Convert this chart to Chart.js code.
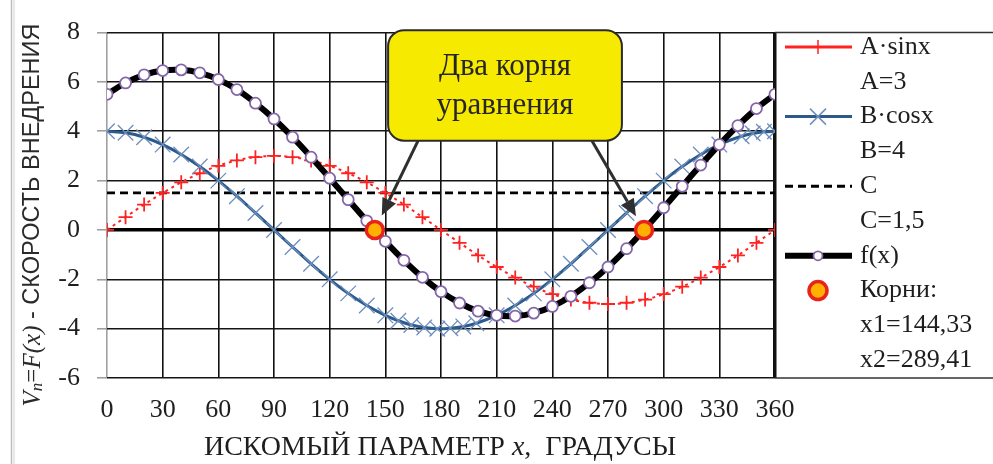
<!DOCTYPE html>
<html>
<head>
<meta charset="utf-8">
<script src="https://cdn.jsdelivr.net/npm/chart.js@4.4.1/dist/chart.umd.min.js"></script>
<style>
  html, body { margin: 0; padding: 0; background: #fff; }
  #wrap { width: 993px; height: 464px; }
</style>
</head>
<body>
<div id="wrap"><canvas id="c" width="993" height="464"></canvas></div>
<script>
// x, degrees
const xDeg = [0,10,20,30,40,50,60,70,80,90,100,110,120,130,140,150,160,170,180,
  190,200,210,220,230,240,250,260,270,280,290,300,310,320,330,340,350,360];
// A*sin x, A = 3
const aSin = [0,0.52,1.03,1.5,1.93,2.3,2.6,2.82,2.95,3,2.95,2.82,2.6,2.3,1.93,1.5,1.03,0.52,0,
  -0.52,-1.03,-1.5,-1.93,-2.3,-2.6,-2.82,-2.95,-3,-2.95,-2.82,-2.6,-2.3,-1.93,-1.5,-1.03,-0.52,0];
// B*cos x, B = 4 (markers denser near the extremes)
const xCos = [0,10,20,30,40,50,60,70,80,90,100,110,120,130,140,150,157,164,171,178,185,192,199,
  210,220,230,240,250,260,270,280,290,300,310,320,330,342,348,354,360];
const bCos = [4,3.94,3.76,3.46,3.06,2.57,2,1.37,0.69,0,-0.69,-1.37,-2,-2.57,-3.06,-3.46,-3.68,-3.85,-3.95,-4,-3.98,-3.91,-3.78,
  -3.46,-3.06,-2.57,-2,-1.37,-0.69,0,0.69,1.37,2,2.57,3.06,3.46,3.8,3.91,3.98,4];
// f(x) = A*sin x + B*cos x + C
const fX = [5.5,5.96,6.29,6.46,6.49,6.37,6.1,5.69,5.14,4.5,3.76,2.95,2.1,1.23,0.37,-0.46,-1.23,-1.92,-2.5,
  -2.96,-3.29,-3.46,-3.49,-3.37,-3.1,-2.69,-2.14,-1.5,-0.76,0.05,0.9,1.77,2.63,3.46,4.23,4.92,5.5];
const cX = [0, 360];
const cVal = [1.5, 1.5];
const roots = [144.33, 289.41];
const rootVal = [0, 0];
const xTicks = [0,30,60,90,120,150,180,210,240,270,300,330,360];
const yTicks = [-6,-4,-2,0,2,4,6,8];

const legendRows = [
  { text: 'A·sinx', sample: 'sin' },
  { text: 'A=3' },
  { text: 'B·cosx', sample: 'cos' },
  { text: 'B=4' },
  { text: 'C', sample: 'c' },
  { text: 'C=1,5' },
  { text: 'f(x)', sample: 'f' },
  { text: 'Корни:', sample: 'root' },
  { text: 'x1=144,33' },
  { text: 'x2=289,41' }
];

const SERIF = '"Liberation Serif", "Times New Roman", serif';
const SANS = '"Liberation Sans", Arial, sans-serif';
const RED = '#ff2222';
const BLUE = '#2c5a8c';
const BLUE_MK = '#6d8fbd';
const PURPLE = '#8466a8';
const ROOT_FILL = '#ffb000';
const ROOT_LINE = '#e8231c';

const pts = (xs, ys) => xs.map((x, i) => ({ x: x, y: ys[i] }));

function arrow(ctx, x1, y1, x2, y2) {
  const a = Math.atan2(y2 - y1, x2 - x1);
  const len = 17, hw = 7.5;
  const bx = x2 - Math.cos(a) * len, by = y2 - Math.sin(a) * len;
  ctx.beginPath();
  ctx.moveTo(x1, y1);
  ctx.lineTo(bx, by);
  ctx.stroke();
  ctx.beginPath();
  ctx.moveTo(x2, y2);
  ctx.lineTo(bx + Math.sin(a) * hw, by - Math.cos(a) * hw);
  ctx.lineTo(bx - Math.sin(a) * hw, by + Math.cos(a) * hw);
  ctx.closePath();
  ctx.fill();
}

const extras = {
  id: 'extras',
  beforeDraw(chart) {
    const ctx = chart.ctx;
    ctx.save();
    ctx.fillStyle = '#fff';
    ctx.fillRect(0, 0, chart.width, chart.height);
    // page frame line on the left
    ctx.strokeStyle = '#bdbdbd';
    ctx.lineWidth = 1.5;
    ctx.beginPath(); ctx.moveTo(11.5, 0); ctx.lineTo(11.5, chart.height); ctx.stroke();
    ctx.strokeStyle = '#e0e0e0';
    ctx.beginPath(); ctx.moveTo(14, 0); ctx.lineTo(14, chart.height); ctx.stroke();
    ctx.restore();
  },
  afterDraw(chart) {
    const ctx = chart.ctx;
    const xs = chart.scales.x, ys = chart.scales.y;
    const area = chart.chartArea;
    ctx.save();

    // frame lines continuing through the legend area
    ctx.strokeStyle = '#333';
    ctx.lineWidth = 1.5;
    ctx.beginPath();
    ctx.moveTo(area.right, ys.getPixelForValue(8)); ctx.lineTo(chart.width, ys.getPixelForValue(8));
    ctx.moveTo(area.right, ys.getPixelForValue(-6)); ctx.lineTo(chart.width, ys.getPixelForValue(-6));
    ctx.stroke();

    // callout box
    const bl = xs.getPixelForValue(151.5), br = xs.getPixelForValue(277.5);
    const bt = ys.getPixelForValue(8.1), bb = ys.getPixelForValue(3.62);
    ctx.fillStyle = '#f6ea00';
    ctx.strokeStyle = '#2a2a2a';
    ctx.lineWidth = 2;
    ctx.beginPath();
    ctx.roundRect(bl, bt, br - bl, bb - bt, 16);
    ctx.fill();
    ctx.stroke();
    ctx.fillStyle = '#262626';
    ctx.font = '31px ' + SERIF;
    ctx.textAlign = 'center';
    ctx.textBaseline = 'middle';
    ctx.fillText('Два корня', (bl + br) / 2, bt + 37);
    ctx.fillText('уравнения', (bl + br) / 2, bt + 76);

    // arrows to the roots
    ctx.strokeStyle = '#2f2f2f';
    ctx.fillStyle = '#2f2f2f';
    ctx.lineWidth = 3;
    const starts = [bl + 30, br - 30];
    roots.forEach((r, i) => {
      const rx = xs.getPixelForValue(r), ry = ys.getPixelForValue(rootVal[i]);
      const sx = starts[i], sy = bb;
      const d = Math.hypot(rx - sx, ry - sy);
      const k = (d - 16) / d;
      arrow(ctx, sx, sy, sx + (rx - sx) * k, sy + (ry - sy) * k);
    });

    // legend
    const lx1 = 785, lx2 = 852, mx = 818, tx = 860;
    ctx.textAlign = 'left';
    ctx.textBaseline = 'middle';
    legendRows.forEach((row, i) => {
      const y = 47 + i * 34.8;
      if (row.sample === 'sin') {
        ctx.strokeStyle = RED; ctx.lineWidth = 3;
        ctx.beginPath(); ctx.moveTo(lx1, y); ctx.lineTo(lx2, y); ctx.stroke();
        ctx.lineWidth = 1.5;
        ctx.beginPath(); ctx.moveTo(mx - 7, y); ctx.lineTo(mx + 7, y);
        ctx.moveTo(mx, y - 7); ctx.lineTo(mx, y + 7); ctx.stroke();
      } else if (row.sample === 'cos') {
        ctx.strokeStyle = BLUE; ctx.lineWidth = 3;
        ctx.beginPath(); ctx.moveTo(lx1, y); ctx.lineTo(lx2, y); ctx.stroke();
        ctx.strokeStyle = BLUE_MK; ctx.lineWidth = 1.5;
        ctx.beginPath(); ctx.moveTo(mx - 8, y - 8); ctx.lineTo(mx + 8, y + 8);
        ctx.moveTo(mx - 8, y + 8); ctx.lineTo(mx + 8, y - 8); ctx.stroke();
      } else if (row.sample === 'c') {
        ctx.strokeStyle = '#000'; ctx.lineWidth = 3; ctx.setLineDash([8, 5]);
        ctx.beginPath(); ctx.moveTo(lx1, y); ctx.lineTo(lx2, y); ctx.stroke();
        ctx.setLineDash([]);
      } else if (row.sample === 'f') {
        ctx.strokeStyle = '#000'; ctx.lineWidth = 6;
        ctx.beginPath(); ctx.moveTo(lx1, y); ctx.lineTo(lx2, y); ctx.stroke();
        ctx.fillStyle = '#fff'; ctx.strokeStyle = PURPLE; ctx.lineWidth = 1.8;
        ctx.beginPath(); ctx.arc(mx, y, 4.5, 0, Math.PI * 2); ctx.fill(); ctx.stroke();
      } else if (row.sample === 'root') {
        ctx.fillStyle = ROOT_FILL; ctx.strokeStyle = ROOT_LINE; ctx.lineWidth = 3.5;
        ctx.beginPath(); ctx.arc(mx, y, 9, 0, Math.PI * 2); ctx.fill(); ctx.stroke();
      }
      ctx.fillStyle = '#1e1e1e';
      ctx.font = '26px ' + SERIF;
      ctx.fillText(row.text, tx, y);
    });

    // y axis title (rotated, mixed styles)
    const segs = [
      { t: 'V', f: 'italic 25px ' + SERIF, dy: 0 },
      { t: 'п', f: 'italic 17px ' + SERIF, dy: 5 },
      { t: '=', f: '25px ' + SERIF, dy: 0 },
      { t: 'F(x)', f: 'italic 25px ' + SERIF, dy: 0 },
      { t: ' - СКОРОСТЬ ВНЕДРЕНИЯ', f: '23.5px ' + SANS, dy: 0 }
    ];
    let total = 0;
    segs.forEach(s => { ctx.font = s.f; s.w = ctx.measureText(s.t).width; total += s.w; });
    ctx.translate(33, 215);
    ctx.rotate(-Math.PI / 2);
    ctx.fillStyle = '#2a2a2a';
    ctx.textAlign = 'left';
    ctx.textBaseline = 'middle';
    let px = -total / 2;
    segs.forEach(s => { ctx.font = s.f; ctx.fillText(s.t, px, s.dy); px += s.w; });
    ctx.setTransform(1, 0, 0, 1, 0, 0);

    // x axis title
    const xsegs = [
      { t: 'ИСКОМЫЙ ПАРАМЕТР ', f: '28px ' + SERIF },
      { t: 'x', f: 'italic 28px ' + SERIF },
      { t: ',  ГРАДУСЫ', f: '28px ' + SERIF }
    ];
    total = 0;
    xsegs.forEach(s => { ctx.font = s.f; s.w = ctx.measureText(s.t).width; total += s.w; });
    px = 440 - total / 2;
    ctx.fillStyle = '#1e1e1e';
    xsegs.forEach(s => { ctx.font = s.f; ctx.fillText(s.t, px, 448); px += s.w; });

    ctx.restore();
  }
};

new Chart(document.getElementById('c'), {
  type: 'line',
  data: {
    datasets: [
      {
        label: 'Корни',
        data: pts(roots, rootVal),
        showLine: false,
        pointRadius: 8.5,
        pointBackgroundColor: ROOT_FILL,
        pointBorderColor: ROOT_LINE,
        pointBorderWidth: 3.5
      },
      {
        label: 'f(x)',
        data: pts(xDeg, fX),
        borderColor: '#000',
        borderWidth: 6,
        tension: 0.4,
        pointStyle: 'circle',
        pointRadius: 5.5,
        pointBackgroundColor: '#fff',
        pointBorderColor: PURPLE,
        pointBorderWidth: 1.8
      },
      {
        label: 'B·cosx',
        data: pts(xCos, bCos),
        borderColor: BLUE,
        borderWidth: 3,
        tension: 0.4,
        pointStyle: 'crossRot',
        pointRadius: 11,
        pointBorderColor: BLUE_MK,
        pointBorderWidth: 1.3
      },
      {
        label: 'A·sinx',
        data: pts(xDeg, aSin),
        borderColor: RED,
        borderWidth: 2,
        borderDash: [3, 4],
        tension: 0.4,
        pointStyle: 'cross',
        pointRadius: 7,
        pointBorderColor: RED,
        pointBorderWidth: 1.8
      },
      {
        label: 'C',
        data: pts(cX, cVal),
        borderColor: '#000',
        borderWidth: 2.8,
        borderDash: [8, 5],
        pointRadius: 0
      }
    ]
  },
  options: {
    responsive: false,
    animation: false,
    events: [],
    layout: { padding: { top: 28, right: 218, left: 0, bottom: 0 } },
    plugins: { legend: { display: false }, tooltip: { enabled: false } },
    scales: {
      x: {
        type: 'linear',
        min: 0,
        max: 360,
        afterBuildTicks: s => { s.ticks = xTicks.map(v => ({ value: v })); },
        afterFit: s => { s.height = 86; },
        border: { display: false },
        grid: {
          drawTicks: false,
          color: c => (c.tick && c.tick.value === 0 ? '#a0a0a0' : '#111'),
          lineWidth: c => (c.tick && c.tick.value === 360 ? 3.5 : 1.6)
        },
        ticks: { padding: 17, color: '#1e1e1e', font: { family: SERIF, size: 26 }, maxRotation: 0 }
      },
      y: {
        min: -6,
        max: 8,
        afterBuildTicks: s => { s.ticks = yTicks.map(v => ({ value: v })); },
        afterFit: s => { s.width = 107; },
        border: { display: false },
        grid: {
          tickLength: 10,
          tickColor: '#9a9a9a',
          tickWidth: 1.5,
          color: c => (c.tick && c.tick.value === 0 ? '#000' : '#151515'),
          lineWidth: c => (c.tick && c.tick.value === 0 ? 3.5 : 1.6)
        },
        ticks: { padding: 17, color: '#1e1e1e', font: { family: SERIF, size: 26 } }
      }
    }
  },
  plugins: [extras]
});
</script>
</body>
</html>
